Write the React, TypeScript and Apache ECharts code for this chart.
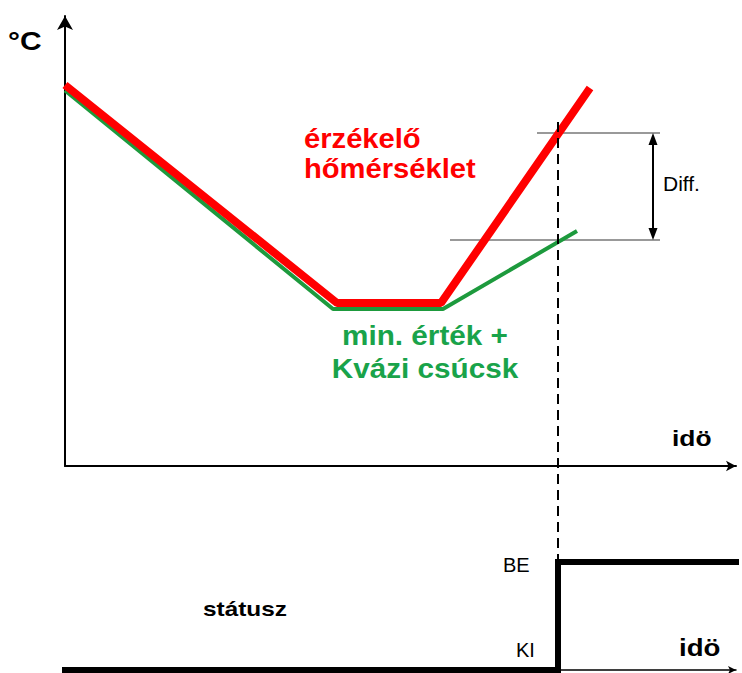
import React, { useEffect, useRef } from "react";
import * as echarts from "echarts";

// time units (x) and temperature units (y)
const sensorTemp: [number, number][] = [
  [0, 95.25],
  [54.4, 40.75],
  [75.2, 40.75],
  [105, 94.5],
];
const minValueTemp: [number, number][] = [
  [0, 93.9],
  [53.6, 39.25],
  [75.6, 39.25],
  [102.4, 58.75],
];
const switchTime = 98.6;
const upperLevel = 83.25;
const lowerLevel = 56.5;
const upperLevelStart = 94.4;
const lowerLevelStart = 77;
const levelEnd = 119;
const diffArrowX = 117.6;
const statusValues: [number, number][] = [
  [0, 0],
  [switchTime, 0],
  [switchTime, 1],
  [135.4, 1],
];
const dashedRange = [86, -24];

const FONT = '"Liberation Sans", Arial, sans-serif';
const RED = "#ff0000";
const GREEN_LINE = "#1d9a3d";
const GREEN_TEXT = "#19a34a";

function txt(
  text: string,
  x: number,
  y: number,
  size: number,
  opts: { bold?: boolean; color?: string; align?: string; scaleX?: number } = {}
) {
  return {
    type: "text",
    x,
    y,
    scaleX: opts.scaleX ?? 1,
    silent: true,
    style: {
      text,
      fill: opts.color ?? "#000",
      fontSize: size,
      fontWeight: opts.bold ? "bold" : "normal",
      fontFamily: FONT,
      align: opts.align ?? "left",
      verticalAlign: "middle",
    },
  };
}

export default function App() {
  const ref = useRef<HTMLDivElement>(null);
  useEffect(() => {
    if (!ref.current) return;
    const chart = echarts.init(ref.current, undefined, { renderer: "svg" });
    const axisCommon = {
      axisTick: { show: false },
      axisLabel: { show: false },
      splitLine: { show: false },
    };
    chart.setOption({
      animation: false,
      backgroundColor: "#fff",
      grid: [
        { left: 65, top: 16, width: 671, height: 450 },
        { left: 65, top: 562, width: 671, height: 108 },
      ],
      xAxis: [
        {
          type: "value",
          gridIndex: 0,
          min: 0,
          max: 134.2,
          ...axisCommon,
          axisLine: {
            show: true,
            onZero: false,
            symbol: ["none", "arrow"],
            symbolSize: [8, 10],
            lineStyle: { color: "#000", width: 2 },
          },
        },
        {
          type: "value",
          gridIndex: 1,
          min: 0,
          max: 134.2,
          ...axisCommon,
          axisLine: {
            show: true,
            onZero: false,
            symbol: ["none", "arrow"],
            symbolSize: [6, 8],
            lineStyle: { color: "#000", width: 1.5 },
          },
        },
      ],
      yAxis: [
        {
          type: "value",
          gridIndex: 0,
          min: 0,
          max: 112.5,
          ...axisCommon,
          axisLine: {
            show: true,
            onZero: false,
            symbol: ["none", "arrow"],
            symbolSize: [12, 14],
            lineStyle: { color: "#000", width: 2 },
          },
        },
        {
          type: "value",
          gridIndex: 1,
          min: 0,
          max: 1,
          ...axisCommon,
          axisLine: { show: false },
        },
      ],
      series: [
        {
          type: "line",
          name: "levels-upper",
          xAxisIndex: 0,
          yAxisIndex: 0,
          data: [
            [upperLevelStart, upperLevel],
            [levelEnd, upperLevel],
          ],
          showSymbol: false,
          symbol: "none",
          lineStyle: { color: "#777", width: 1.5 },
          silent: true,
          markLine: {
            silent: true,
            symbol: ["triangle", "triangle"],
            symbolSize: [9, 12],
            label: { show: false },
            lineStyle: { color: "#000", width: 2, type: "solid" },
            data: [
              [
                { coord: [diffArrowX, upperLevel - 1.5] },
                { coord: [diffArrowX, lowerLevel + 1.5] },
              ],
            ],
          },
        },
        {
          type: "line",
          name: "levels-lower",
          xAxisIndex: 0,
          yAxisIndex: 0,
          data: [
            [lowerLevelStart, lowerLevel],
            [levelEnd, lowerLevel],
          ],
          showSymbol: false,
          symbol: "none",
          lineStyle: { color: "#777", width: 1.5 },
          silent: true,
        },
        {
          type: "line",
          name: "min",
          xAxisIndex: 0,
          yAxisIndex: 0,
          data: minValueTemp,
          showSymbol: false,
          symbol: "none",
          lineStyle: { color: GREEN_LINE, width: 4 },
          silent: true,
        },
        {
          type: "line",
          name: "sensor",
          xAxisIndex: 0,
          yAxisIndex: 0,
          data: sensorTemp,
          showSymbol: false,
          symbol: "none",
          lineStyle: { color: RED, width: 8 },
          silent: true,
        },
        {
          type: "line",
          name: "switch",
          xAxisIndex: 0,
          yAxisIndex: 0,
          clip: false,
          data: [
            [switchTime, dashedRange[0]],
            [switchTime, dashedRange[1]],
          ],
          showSymbol: false,
          symbol: "none",
          lineStyle: { color: "#000", width: 2, type: [10, 6] },
          silent: true,
        },
        {
          type: "line",
          name: "status",
          xAxisIndex: 1,
          yAxisIndex: 1,
          clip: false,
          data: statusValues,
          showSymbol: false,
          symbol: "none",
          lineStyle: { color: "#000", width: 6, cap: "square", join: "miter" },
          silent: true,
        },
      ],
      graphic: [
        txt("°C", 8, 41, 26, { bold: true, scaleX: 1.15 }),
        txt("érzékelő", 304, 138.5, 27, { bold: true, color: RED, scaleX: 1.08 }),
        txt("hőmérséklet", 304, 168.5, 27, { bold: true, color: RED, scaleX: 1.08 }),
        txt("min. érték +", 425, 335.5, 27, { bold: true, color: GREEN_TEXT, align: "center", scaleX: 1.1 }),
        txt("Kvázi csúcsk", 425, 368.5, 27, { bold: true, color: GREEN_TEXT, align: "center", scaleX: 1.1 }),
        txt("Diff.", 663, 184, 20, { scaleX: 1.05 }),
        txt("idö", 672, 438, 22, { bold: true, scaleX: 1.2 }),
        txt("BE", 503, 564.5, 20),
        txt("KI", 516, 649.5, 20),
        txt("státusz", 203, 609, 20, { bold: true, scaleX: 1.22 }),
        txt("idö", 679, 647.5, 24, { bold: true, scaleX: 1.15 }),
      ],
    });
    return () => chart.dispose();
  }, []);
  return (
    <div
      ref={ref}
      style={{ position: "fixed", left: 0, top: 0, width: 742, height: 673, background: "#fff" }}
    />
  );
}
